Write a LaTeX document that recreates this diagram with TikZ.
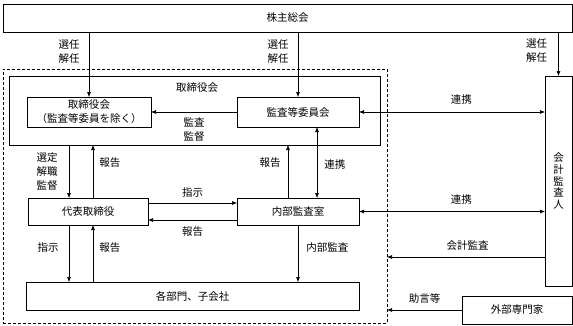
\documentclass[tikz,border=0pt]{standalone}
\usepackage{fontspec}
\setmainfont{Noto Sans CJK JP}
\usetikzlibrary{arrows.meta}
\tikzset{
  box/.style={draw,line width=0.8pt,inner sep=0pt,outer sep=0pt,font=\fontsize{10.5}{14}\selectfont,align=center},
  lbl/.style={inner sep=0pt,font=\fontsize{10.5}{14}\selectfont,align=center},
  conn/.style={line width=0.6pt},
}

\begin{document}
\begin{tikzpicture}[x=1pt,y=-1pt,>={Latex[length=5pt,width=4pt]}]
  \useasboundingbox (0,0) rectangle (573,325);
  % frames
  \node[box,dash pattern=on 3pt off 2pt,minimum width=384pt,minimum height=254pt] (group) at (195,196) {};
  \node[box,minimum width=371pt,minimum height=69pt] (board) at (194.5,110.5) {};
  \node[lbl] (boardlbl) at (197,88) {取締役会};
  % boxes
  \node[box,minimum width=569pt,minimum height=28pt] (agm) at (287.5,18) {株主総会};
  \node[box,minimum width=124pt,minimum height=30pt] (bod) at (89,112) {取締役会\\（監査等委員を除く）};
  \node[box,minimum width=122pt,minimum height=30pt] (ac) at (298,112) {監査等委員会};
  \node[box,minimum width=120pt,minimum height=27pt] (ceo) at (88,211.5) {代表取締役};
  \node[box,minimum width=122pt,minimum height=27pt] (iad) at (298,211.5) {内部監査室};
  \node[box,minimum width=333pt,minimum height=28pt] (depts) at (192.5,296) {各部門、子会社};
  \node[box,minimum width=27pt,minimum height=210pt,font=\fontsize{10.5}{11.8}\selectfont] (aud) at (558.5,181) {会\\計\\監\\査\\人};
  \node[box,minimum width=110pt,minimum height=28pt] (ext) at (517,310) {外部専門家};
  \coordinate (auditpt) at ([yshift=-76pt]aud.west);
  % shareholders
  \draw[conn,->] (agm.south -| bod.north) -- node[lbl,left=9pt,pos=0.3]{選任\\解任} (bod.north);
  \draw[conn,->] (agm.south -| ac.north) -- node[lbl,left=9pt,pos=0.3]{選任\\解任} (ac.north);
  \draw[conn,->] (agm.south -| aud.north) -- node[lbl,left=11pt,pos=0.43]{選任\\解任} (aud.north);
  % board
  \draw[conn,->] (ac.west) -- node[lbl,below=5pt]{監査\\監督} (bod.east);
  \draw[conn,<->] (ac.east) -- node[lbl,above=7pt,pos=0.55]{連携} (ac.east -| aud.west);
  \draw[conn,->] ([xshift=-19pt]ceo.north |- board.south) -- node[lbl,left=11pt]{選定\\解職\\監督} ([xshift=-19pt]ceo.north);
  \draw[conn,->] ([xshift=5pt]ceo.north) -- node[lbl,right=6pt,pos=0.66]{報告} ([xshift=5pt]ceo.north |- board.south);
  \draw[conn,->] ([xshift=-10pt]iad.north) -- node[lbl,left=7pt,pos=0.66]{報告} ([xshift=-10pt]iad.north |- board.south);
  \draw[conn,<->] ([xshift=19pt]ac.south) -- node[lbl,right=7pt,pos=0.535]{連携} ([xshift=19pt]iad.north);
  % executives
  \draw[conn,->] ([yshift=8.5pt]ceo.east) -- node[lbl,above=5pt]{指示} ([yshift=8.5pt]ceo.east -| iad.west);
  \draw[conn,->] ([yshift=-8.5pt]iad.west) -- node[lbl,below=6pt]{報告} ([yshift=-8.5pt]iad.west -| ceo.east);
  \draw[conn,->] ([xshift=-19pt]ceo.south) -- node[lbl,left=10pt,pos=0.4]{指示} ([xshift=-19pt]ceo.south |- depts.north);
  \draw[conn,->] ([xshift=5pt]ceo.south |- depts.north) -- node[lbl,right=6pt,pos=0.6]{報告} ([xshift=5pt]ceo.south);
  \draw[conn,->] (iad.south) -- node[lbl,right=8pt,pos=0.4]{内部監査} (iad.south |- depts.north);
  % outside
  \draw[conn,<->] (iad.east) -- node[lbl,above=7pt,pos=0.55]{連携} (iad.east -| aud.west);
  \draw[conn,->] (auditpt) -- node[lbl,above=6pt,pos=0.49]{会計監査} (auditpt -| group.east);
  \draw[conn,->] (ext.west) -- node[lbl,above=6pt]{助言等} (ext.west -| group.east);
\end{tikzpicture}
\end{document}
